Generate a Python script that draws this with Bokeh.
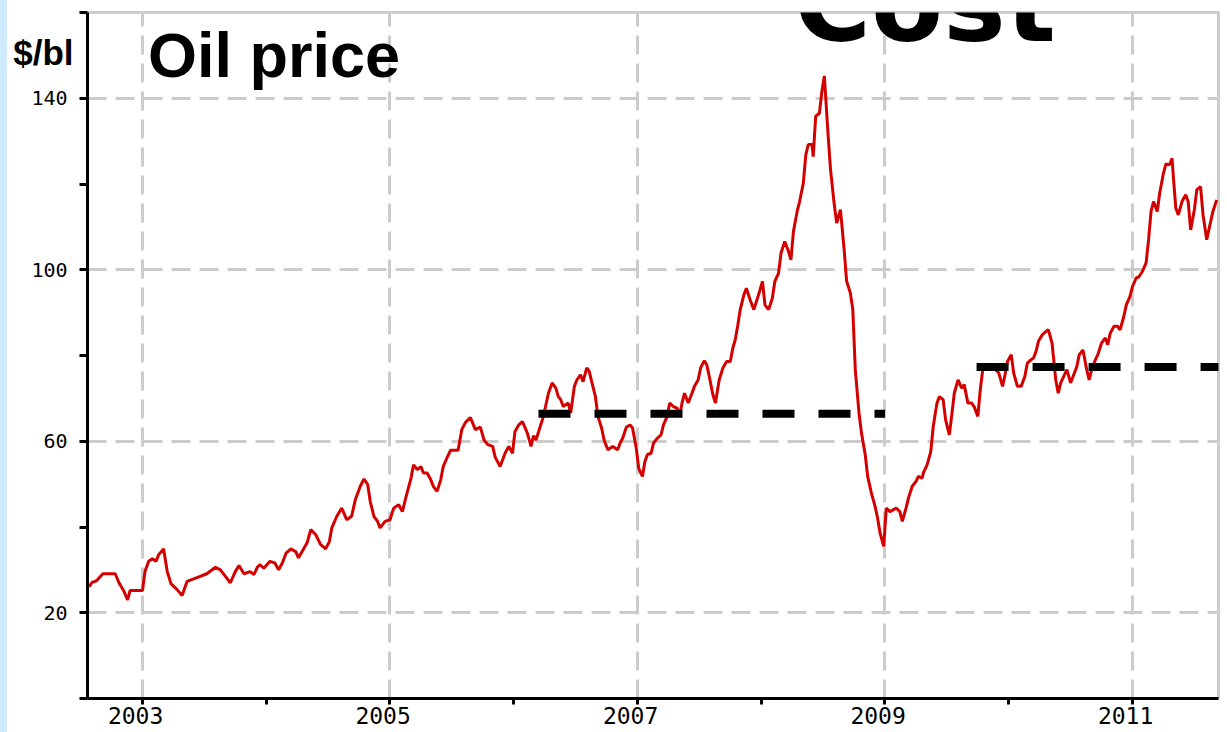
from bokeh.plotting import figure
from bokeh.models import FixedTicker, Range1d, Label, Spacer, LinearAxis
from bokeh.layouts import row
from bokeh.embed import file_html
from bokeh.resources import INLINE

# ---- data (decimal year, $/barrel) ----
years = [2002.57, 2002.59, 2002.63, 2002.68, 2002.78, 2002.81, 2002.85, 2002.88, 2002.90, 2003.00,
         2003.02, 2003.05, 2003.08, 2003.11, 2003.13, 2003.17, 2003.20, 2003.23, 2003.28, 2003.32,
         2003.36, 2003.44, 2003.52, 2003.59, 2003.63, 2003.67, 2003.71, 2003.75, 2003.78, 2003.82,
         2003.87, 2003.90, 2003.93, 2003.95, 2003.98, 2004.03, 2004.07, 2004.10, 2004.13, 2004.16,
         2004.20, 2004.24, 2004.26, 2004.29, 2004.33, 2004.36, 2004.40, 2004.44, 2004.48, 2004.51,
         2004.53, 2004.57, 2004.61, 2004.65, 2004.69, 2004.72, 2004.76, 2004.79, 2004.82, 2004.84,
         2004.87, 2004.90, 2004.92, 2004.96, 2005.00, 2005.03, 2005.07, 2005.10, 2005.13, 2005.17,
         2005.19, 2005.22, 2005.25, 2005.27, 2005.30, 2005.33, 2005.35, 2005.38, 2005.41, 2005.43,
         2005.46, 2005.49, 2005.55, 2005.58, 2005.61, 2005.65, 2005.69, 2005.73, 2005.76, 2005.79,
         2005.83, 2005.85, 2005.89, 2005.93, 2005.96, 2005.99, 2006.01, 2006.04, 2006.07, 2006.11,
         2006.14, 2006.16, 2006.18, 2006.21, 2006.24, 2006.26, 2006.28, 2006.31, 2006.34, 2006.36,
         2006.38, 2006.40, 2006.44, 2006.46, 2006.49, 2006.51, 2006.54, 2006.56, 2006.59, 2006.61,
         2006.63, 2006.66, 2006.68, 2006.71, 2006.73, 2006.76, 2006.80, 2006.84, 2006.86, 2006.88,
         2006.91, 2006.94, 2006.96, 2006.99, 2007.01, 2007.04, 2007.06, 2007.08, 2007.11, 2007.13,
         2007.16, 2007.19, 2007.21, 2007.24, 2007.26, 2007.29, 2007.32, 2007.34, 2007.36, 2007.38,
         2007.41, 2007.44, 2007.46, 2007.49, 2007.51, 2007.54, 2007.56, 2007.58, 2007.61, 2007.63,
         2007.66, 2007.69, 2007.72, 2007.75, 2007.77, 2007.79, 2007.81, 2007.83, 2007.86, 2007.88,
         2007.91, 2007.94, 2007.97, 2007.99, 2008.01, 2008.03, 2008.06, 2008.09, 2008.11, 2008.14,
         2008.16, 2008.19, 2008.22, 2008.24, 2008.26, 2008.29, 2008.31, 2008.34, 2008.36, 2008.38,
         2008.41, 2008.42, 2008.44, 2008.47, 2008.49, 2008.51, 2008.54, 2008.56, 2008.59, 2008.61,
         2008.64, 2008.67, 2008.69, 2008.72, 2008.74, 2008.76, 2008.79, 2008.81, 2008.84, 2008.86,
         2008.89, 2008.92, 2008.94, 2008.96, 2008.99, 2009.01, 2009.04, 2009.09, 2009.12, 2009.14,
         2009.17, 2009.19, 2009.22, 2009.25, 2009.27, 2009.30, 2009.31, 2009.34, 2009.37, 2009.39,
         2009.42, 2009.44, 2009.47, 2009.49, 2009.52, 2009.54, 2009.56, 2009.59, 2009.62, 2009.64,
         2009.67, 2009.70, 2009.72, 2009.75, 2009.77, 2009.79, 2009.82, 2009.87, 2009.92, 2009.95,
         2009.97, 2009.99, 2010.02, 2010.04, 2010.07, 2010.10, 2010.13, 2010.15, 2010.18, 2010.20,
         2010.22, 2010.24, 2010.27, 2010.30, 2010.32, 2010.35, 2010.38, 2010.40, 2010.42, 2010.45,
         2010.47, 2010.50, 2010.52, 2010.55, 2010.57, 2010.60, 2010.63, 2010.65, 2010.67, 2010.70,
         2010.72, 2010.75, 2010.78, 2010.80, 2010.82, 2010.85, 2010.88, 2010.90, 2010.93, 2010.95,
         2010.98, 2011.00, 2011.03, 2011.05, 2011.08, 2011.11, 2011.13, 2011.15, 2011.17, 2011.20,
         2011.22, 2011.25, 2011.27, 2011.30, 2011.32, 2011.33, 2011.35, 2011.37, 2011.40, 2011.43,
         2011.45, 2011.47, 2011.50, 2011.52, 2011.55, 2011.57, 2011.60, 2011.62, 2011.65, 2011.68]

prices = [26.1, 27.0, 27.5, 29.1, 29.1, 27.0, 25.0, 23.0, 25.2, 25.2,
          29.6, 32.0, 32.6, 32.0, 33.5, 34.9, 29.6, 26.8, 25.4, 24.0,
          27.3, 28.2, 29.1, 30.6, 30.0, 28.5, 27.0, 29.6, 31.0, 29.1,
          29.6, 28.9, 30.7, 31.2, 30.4, 32.0, 31.6, 30.0, 31.6, 33.9,
          34.9, 34.2, 32.8, 34.3, 36.3, 39.4, 38.2, 35.9, 34.9, 36.6,
          39.8, 42.5, 44.4, 41.7, 42.5, 46.4, 49.5, 51.2, 49.9, 46.0,
          42.5, 41.3, 39.8, 41.3, 41.7, 44.4, 45.2, 43.6, 47.1, 51.4,
          54.5, 53.4, 54.1, 52.6, 52.6, 51.0, 49.5, 48.3, 51.0, 54.1,
          56.1, 57.9, 57.9, 62.7, 64.4, 65.5, 62.7, 63.3, 60.3, 59.2,
          58.8, 56.3, 54.1, 57.2, 58.8, 57.2, 62.3, 63.8, 64.6, 61.9,
          58.8, 61.3, 60.3, 63.1, 65.8, 68.5, 71.2, 73.6, 72.4, 70.4,
          69.7, 68.1, 68.9, 66.6, 72.8, 74.3, 75.5, 73.9, 77.1, 76.3,
          73.9, 70.4, 65.8, 63.1, 60.3, 58.0, 58.8, 58.0, 59.6, 60.7,
          63.3, 63.8, 63.1, 58.4, 53.7, 51.8, 55.3, 56.9, 57.2, 59.6,
          60.7, 61.5, 63.8, 65.8, 68.9, 68.1, 67.7, 65.8, 68.9, 71.2,
          68.9, 71.2, 72.8, 74.3, 77.1, 78.8, 77.8, 75.1, 70.8, 68.9,
          74.3, 77.1, 78.6, 78.6, 81.7, 83.7, 87.0, 90.7, 94.2, 95.7,
          93.0, 90.7, 93.4, 95.3, 97.3, 91.8, 90.7, 93.4, 97.3, 99.2,
          103.9, 106.6, 104.3, 102.3, 108.9, 113.6, 115.9, 120.2, 126.8, 129.2,
          129.2, 126.4, 135.8, 136.5, 141.6, 145.2, 131.5, 123.3, 115.2, 110.9,
          114.0, 104.7, 97.3, 94.6, 90.7, 76.7, 66.6, 61.9, 56.9, 51.8,
          47.9, 44.8, 42.1, 38.6, 35.5, 44.4, 43.6, 44.4, 43.6, 41.3,
          44.4, 46.8, 49.5, 50.6, 51.8, 51.4, 52.6, 54.5, 57.6, 63.5,
          68.9, 70.4, 69.7, 65.0, 61.5, 66.2, 71.2, 74.3, 72.4, 73.2,
          68.9, 68.9, 68.1, 65.8, 72.0, 76.7, 77.4, 77.4, 75.9, 72.8,
          75.5, 78.6, 80.2, 75.9, 72.8, 72.8, 75.1, 78.2, 79.0, 79.4,
          80.9, 83.3, 84.8, 85.6, 86.0, 82.9, 74.3, 71.2, 73.6, 75.5,
          76.7, 73.6, 75.1, 77.4, 80.2, 81.3, 76.7, 74.3, 76.7, 79.0,
          80.2, 82.9, 84.1, 82.5, 85.2, 86.8, 86.8, 86.0, 89.1, 91.8,
          93.8, 96.1, 98.1, 98.3, 99.6, 101.6, 107.0, 113.6, 115.9, 113.6,
          117.9, 122.5, 124.7, 124.5, 126.0, 121.8, 114.4, 112.8, 115.9, 117.5,
          115.9, 109.3, 114.0, 118.7, 119.4, 112.8, 107.0, 109.7, 113.6, 116.3]

# dashed "cost" levels
cost1_years = [2006.20, 2009.00]
cost1_level = [66.4, 66.4]
cost2_years = [2009.74, 2011.80]
cost2_level = [77.3, 77.3]

x_ticks = [2003, 2004, 2005, 2006, 2007, 2008, 2009, 2010, 2011]
x_labelled = [2003, 2005, 2007, 2009, 2011]
y_ticks = [0, 20, 40, 60, 80, 100, 120, 140, 160]
y_labelled = [20, 60, 100, 140]
unit_label = "$/bl"
unit_label_at = 150.7   # value level where the unit label sits

p = figure(width=1220, height=732, output_backend="svg", toolbar_location=None,
           x_range=Range1d(2002.5556, 2011.695), y_range=Range1d(0, 160),
           min_border_left=80, min_border_right=9, min_border_top=12, min_border_bottom=34,
           background_fill_color="white", border_fill_color="white")

p.outline_line_color = "#cccccc"
p.outline_line_width = 3
p.outline_line_alpha = 1.0

tick_font = "DejaVu Sans Mono"

p.xaxis.ticker = FixedTicker(ticks=x_ticks)
p.xaxis.major_label_overrides = {t: (str(t) + "\u00a0" if t in x_labelled else "") for t in x_ticks}
p.xaxis.minor_tick_line_color = None
p.xaxis.major_tick_out = 6
p.xaxis.major_tick_in = 0
p.xaxis.axis_line_width = 3
p.xaxis.major_tick_line_width = 3
p.xaxis.axis_line_color = "black"
p.xaxis.major_tick_line_color = "black"
p.xaxis.major_label_text_font = tick_font
p.xaxis.major_label_text_font_size = "23px"
p.xaxis.major_label_text_color = "black"
p.xaxis.major_label_standoff = -2

p.yaxis.ticker = FixedTicker(ticks=y_ticks)
p.yaxis.major_label_overrides = {t: (str(t) if t in y_labelled else "") for t in y_ticks}
p.yaxis.minor_tick_line_color = None
p.yaxis.major_tick_out = 8
p.yaxis.major_tick_in = 0
p.yaxis.axis_line_width = 3
p.yaxis.major_tick_line_width = 3
p.yaxis.axis_line_color = "black"
p.yaxis.major_tick_line_color = "black"
p.yaxis.major_label_text_font = tick_font
p.yaxis.major_label_text_font_size = "20px"
p.yaxis.major_label_text_color = "black"
p.yaxis.major_label_standoff = 12

# unit label "$/bl" carried by an outer, invisible left axis
unit_axis = LinearAxis(ticker=FixedTicker(ticks=[unit_label_at]),
                       major_label_overrides={unit_label_at: unit_label})
unit_axis.axis_line_color = None
unit_axis.major_tick_line_color = None
unit_axis.minor_tick_line_color = None
unit_axis.major_tick_out = 0
unit_axis.major_tick_in = 0
unit_axis.major_label_standoff = -45
unit_axis.major_label_text_font = "Liberation Sans"
unit_axis.major_label_text_font_style = "bold"
unit_axis.major_label_text_font_size = "35px"
unit_axis.major_label_text_color = "black"
p.add_layout(unit_axis, "left")

p.xgrid.ticker = FixedTicker(ticks=x_labelled)
p.ygrid.ticker = FixedTicker(ticks=y_labelled)
for g in (p.xgrid, p.ygrid):
    g.grid_line_color = "#cccccc"
    g.grid_line_width = 3
    g.grid_line_dash = "19 9"

p.line(years, prices, line_color="#d40000", line_width=3)
p.line(cost1_years, cost1_level, line_color="black", line_width=8, line_dash="32 24")
p.line(cost2_years, cost2_level, line_color="black", line_width=8, line_dash="32 24")

p.add_layout(Label(x=2003.044, y=150.04, text="Oil price", text_font="Liberation Sans",
                   text_font_style="bold", text_font_size="63px", text_color="black",
                   text_baseline="alphabetic", text_align="left"))
p.add_layout(Label(x=2008.265, y=161.7, text="Cost", text_font="DejaVu Sans",
                   text_font_style="bold", text_font_size="105px", text_color="black",
                   text_baseline="alphabetic", text_align="left"))

strip = Spacer(width=7, height=732, styles={"background-color": "#cfe9ff"})
layout = row(strip, p, spacing=0)

open("out.html", "w").write(file_html(layout, INLINE))
